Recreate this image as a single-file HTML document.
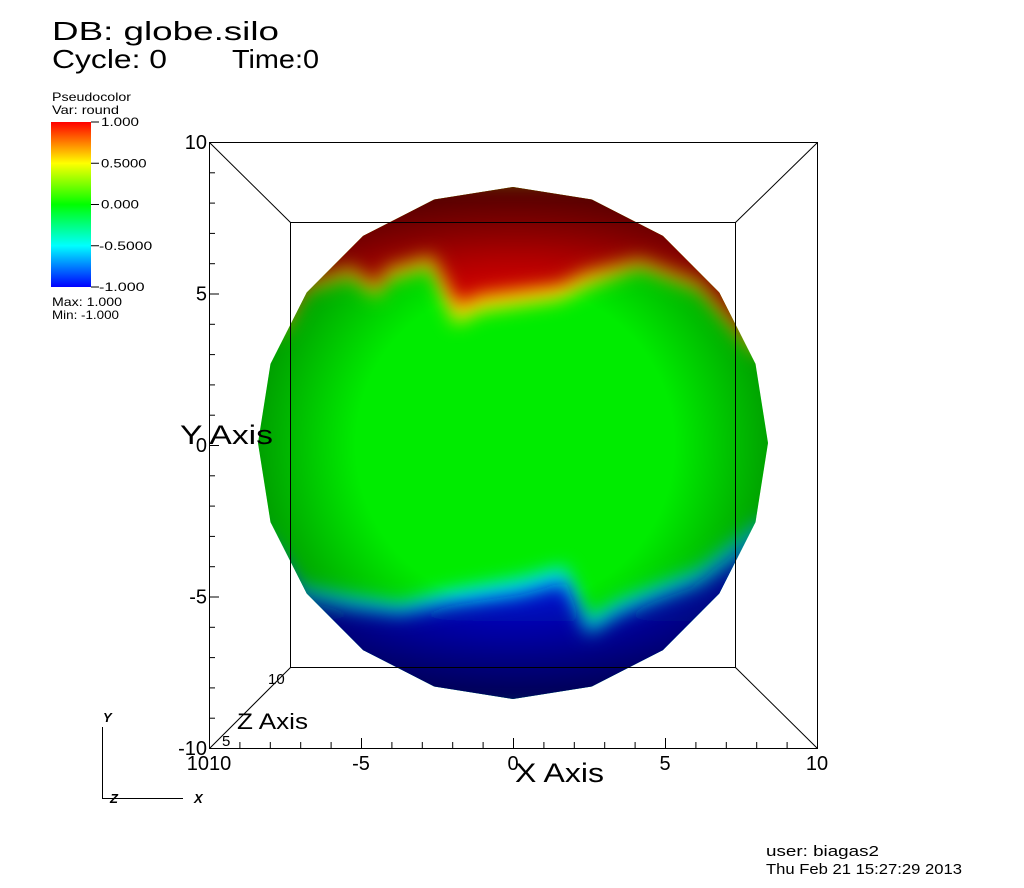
<!DOCTYPE html>
<html><head><meta charset="utf-8"><style>
body{margin:0;background:#fff;}
svg{display:block;font-family:"Liberation Sans",sans-serif;}
</style></head><body>
<svg width="1024" height="888" viewBox="0 0 1024 888">
<defs>
<linearGradient id="cb" x1="0" y1="0" x2="0" y2="1">
<stop offset="0" stop-color="#ff0000"/><stop offset="0.25" stop-color="#ffff00"/><stop offset="0.5" stop-color="#00ff00"/><stop offset="0.75" stop-color="#00ffff"/><stop offset="1" stop-color="#0000ff"/>
</linearGradient>
<clipPath id="sph"><polygon id="sphpoly" points=""/></clipPath>
<filter id="bl" x="-20%" y="-20%" width="140%" height="140%"><feGaussianBlur stdDeviation="9"/></filter>
<radialGradient id="shade" cx="0.5" cy="0.5" r="0.5">
<stop offset="0.6" stop-color="#000" stop-opacity="0"/><stop offset="1" stop-color="#000" stop-opacity="0.35"/>
</radialGradient>
<linearGradient id="redg" x1="0" y1="0" x2="0" y2="1">
<stop offset="0" stop-color="#700000"/><stop offset="0.5" stop-color="#c40000"/><stop offset="1" stop-color="#e00000"/></linearGradient>
<linearGradient id="blug" x1="0" y1="0" x2="0" y2="1">
<stop offset="0" stop-color="#0020e0"/><stop offset="0.6" stop-color="#0000b0"/><stop offset="1" stop-color="#000070"/></linearGradient>
</defs>
<text x="52" y="40" font-size="26" textLength="227" lengthAdjust="spacingAndGlyphs">DB: globe.silo</text>
<text x="52" y="68" font-size="26" textLength="115" lengthAdjust="spacingAndGlyphs">Cycle: 0</text>
<text x="232" y="68" font-size="26" textLength="87" lengthAdjust="spacingAndGlyphs">Time:0</text>
<g>
<text x="52" y="101" font-size="12" textLength="79" lengthAdjust="spacingAndGlyphs">Pseudocolor</text>
<text x="52" y="114" font-size="12" textLength="67" lengthAdjust="spacingAndGlyphs">Var: round</text>
<rect x="51" y="122" width="40" height="165" fill="url(#cb)"/>
<g id="cbt" font-size="12"></g>
<text x="52" y="306" font-size="12" textLength="70" lengthAdjust="spacingAndGlyphs">Max:  1.000</text>
<text x="52" y="319" font-size="12" textLength="67" lengthAdjust="spacingAndGlyphs">Min: -1.000</text>
</g>
<g>
<g clip-path="url(#sph)">
<rect x="250" y="180" width="530" height="530" fill="#00ec00"/>
<g filter="url(#bl)">
<path d="M250 180 L780 180 L780 360 L750 350 L700 292 L640 268 L585 288 L560 300 L480 312 L455 325 L430 268 L385 282 L378 298 L350 278 L305 292 L285 330 L250 340Z" fill="#f0e000"/>
<path d="M250 520 L270 540 L300 585 L350 595 L400 603 L450 590 L520 578 L565 566 L588 618 L620 600 L650 588 L700 568 L760 520 L780 520 L780 710 L250 710Z" fill="#00e0f0"/>
</g>
<g filter="url(#bl)">
<path d="M250 180 L780 180 L780 340 L745 330 L700 280 L640 258 L585 272 L560 285 L480 295 L457 305 L432 255 L385 268 L378 285 L350 265 L305 280 L282 315 L250 320Z" fill="url(#redg)"/>
<path d="M250 540 L275 555 L300 600 L350 610 L400 615 L450 605 L520 595 L565 583 L588 635 L620 615 L650 603 L700 585 L765 540 L780 540 L780 710 L250 710Z" fill="url(#blug)"/>
</g>
<rect x="250" y="180" width="530" height="530" fill="url(#shade)"/>
</g>
</g>
<g id="frame" fill="none" stroke="#000" stroke-width="1">
<rect x="209.5" y="142.5" width="608" height="606"/>
<rect x="290.5" y="222.5" width="445" height="445"/>
<line x1="209.5" y1="142.5" x2="290.5" y2="222.5"/><line x1="817.5" y1="142.5" x2="735.5" y2="222.5"/>
<line x1="817.5" y1="748.5" x2="735.5" y2="667.5"/><line x1="209.5" y1="748.5" x2="290.5" y2="667.5"/>
</g>
<g id="ticks" stroke="#000"></g>
<g id="labels" font-size="20"></g>
<text x="515" y="782" font-size="27" textLength="89" lengthAdjust="spacingAndGlyphs">X Axis</text>
<text x="180" y="444" font-size="27" textLength="93" lengthAdjust="spacingAndGlyphs">Y Axis</text>
<text x="237" y="729" font-size="22" textLength="71" lengthAdjust="spacingAndGlyphs">Z Axis</text>
<text x="222" y="746" font-size="15">5</text>
<text x="268" y="684" font-size="15">10</text>
<g stroke="#000">
<line x1="102.5" y1="727" x2="102.5" y2="798"/><line x1="102" y1="798.5" x2="183" y2="798.5"/>
<text x="103" y="722" font-size="13" font-style="italic" font-weight="bold" stroke="none">Y</text>
<text x="110" y="803" font-size="13" font-style="italic" font-weight="bold" stroke="none">Z</text>
<text x="194" y="803" font-size="13" font-style="italic" font-weight="bold" stroke="none">X</text>
</g>
<text x="766" y="856" font-size="15" textLength="113" lengthAdjust="spacingAndGlyphs">user: biagas2</text>
<text x="766" y="874" font-size="15" textLength="196" lengthAdjust="spacingAndGlyphs">Thu Feb 21 15:27:29 2013</text>
</svg>
<script>
const cbValues=["1.000","0.5000","0.000","-0.5000","-1.000"];
const xTicks=[-10,-5,0,5,10];
const yTicks=[10,5,0,-5,-10];
const sphereAngles=20;
const NS="http://www.w3.org/2000/svg";
function mk(t,a,p){const e=document.createElementNS(NS,t);for(const k in a)e.setAttribute(k,a[k]);p.appendChild(e);return e;}
const xs=v=>513+v*30.4, ys=v=>445-v*30.3;
let pts=[];for(let i=0;i<sphereAngles;i++){const a=i/sphereAngles*2*Math.PI;pts.push((513+255*Math.sin(a)).toFixed(1)+","+(443-256*Math.cos(a)).toFixed(1));}
document.getElementById('sphpoly').setAttribute('points',pts.join(' '));
const cbt=document.getElementById('cbt');
cbValues.forEach((v,i)=>{const y=122+i*165/(cbValues.length-1);
mk('line',{x1:91,y1:y,x2:99,y2:y,stroke:'#000'},cbt);
const t=mk('text',{x:v[0]==='-'?99:101,y:y+4,textLength:v.length*7.6,lengthAdjust:'spacingAndGlyphs'},cbt);t.textContent=v;

});
const tk=document.getElementById('ticks');
for(let v=-10;v<=10;v++){const X=xs(v)+0.5,Y=ys(v)+0.5,len=v%5===0?10:6;
mk('line',{x1:X,y1:748,x2:X,y2:748-len},tk);
mk('line',{x1:209,y1:Y,x2:209+len,y2:Y},tk);}
const lb=document.getElementById('labels');
xTicks.forEach(v=>{const t=mk('text',{x:xs(v),y:770,'text-anchor':'middle'},lb);t.textContent=v===-10?'1010':String(v);

});
yTicks.forEach(v=>{const t=mk('text',{x:207,y:ys(v)+7,'text-anchor':'end'},lb);t.textContent=String(v);

});
</script>
</body></html>
